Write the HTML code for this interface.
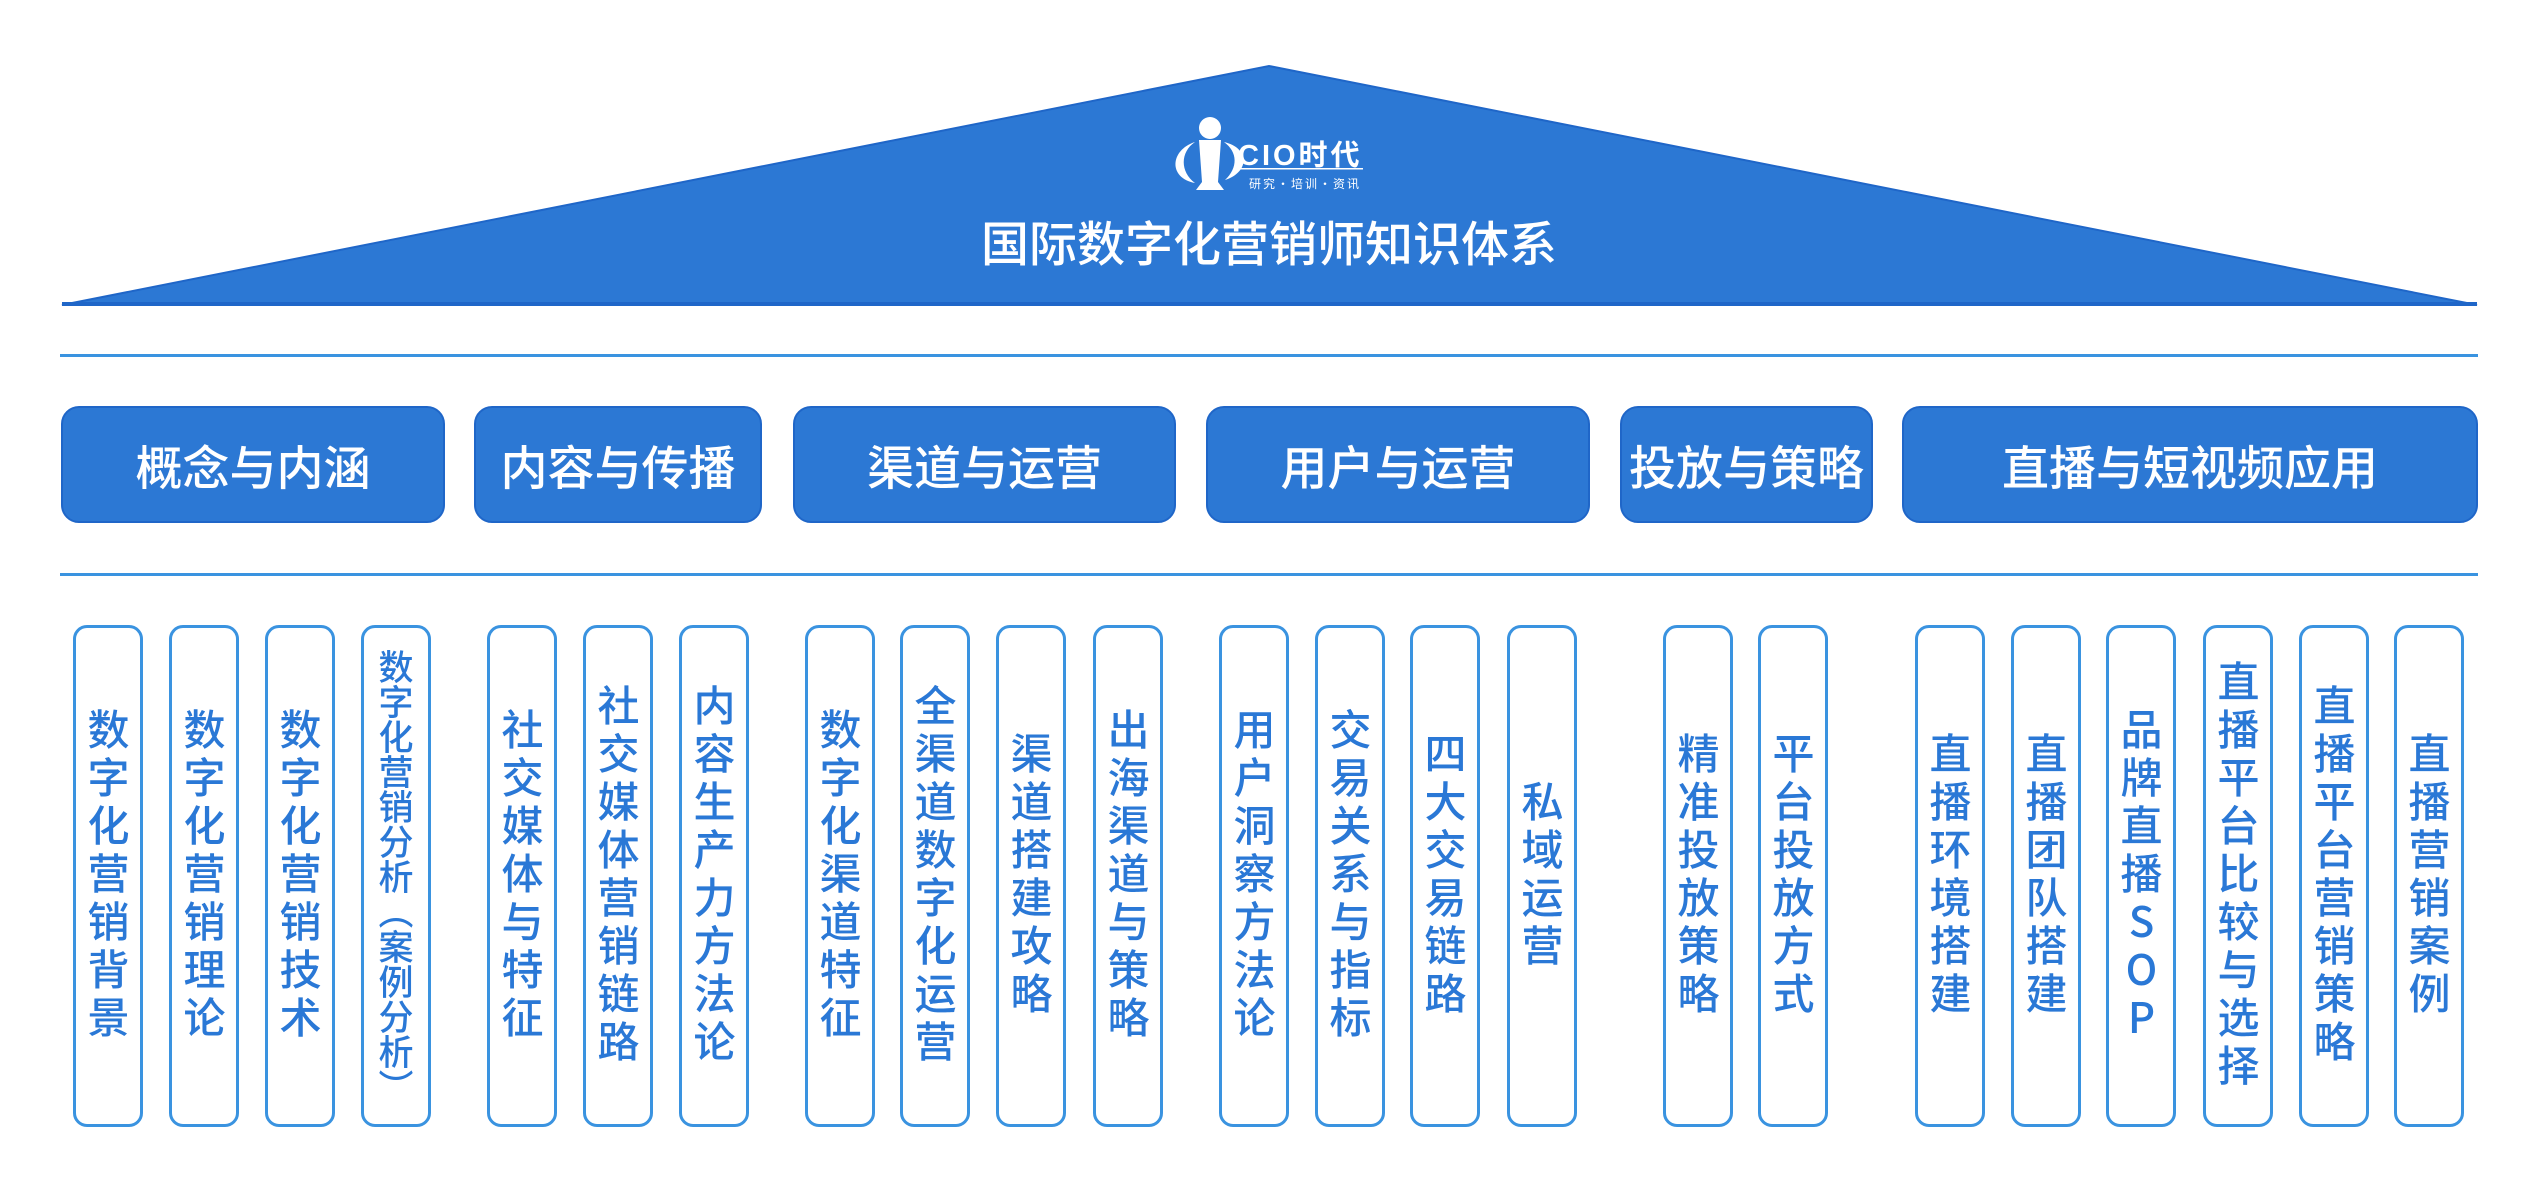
<!DOCTYPE html>
<html><head><meta charset="utf-8"><style>
body{margin:0;width:2538px;height:1188px;background:#fff;position:relative;overflow:hidden;font-family:"Liberation Sans","Noto Sans CJK SC",sans-serif}
.a{position:absolute}
.line{position:absolute;left:60px;width:2418px;height:3px;background:#3a93e0}
.cat{position:absolute;top:406px;height:117px;background:#2c78d4;border:2px solid #1f66c8;border-radius:18px;box-sizing:border-box;color:#fff;font-size:47px;font-weight:500;font-family:"Noto Sans CJK SC",sans-serif;display:flex;align-items:center;justify-content:center;white-space:nowrap}
.col{position:absolute;top:625px;width:70px;height:502px;border:3.5px solid #3a93e0;border-radius:14px;box-sizing:border-box;display:flex;align-items:center;justify-content:center}
.col span{writing-mode:vertical-rl;white-space:nowrap;color:#2a78d6;font-size:42px;font-weight:500;font-family:"Noto Sans CJK SC",sans-serif;letter-spacing:6px;line-height:1}
.col span.s{font-size:35px;letter-spacing:0}
</style></head><body>
<svg class="a" style="left:0;top:0" width="2538" height="320">
<polygon points="62,305 1269,66 2477,305" fill="#2c78d4" stroke="#1f66c8" stroke-width="2"/>
<rect x="62" y="302" width="2415" height="4" fill="#1f66c8"/>
<circle cx="1210" cy="128" r="11" fill="#fff"/>
<path d="M1199,140 L1221,140 L1218,182 L1224,190 L1196,190 L1202,182 Z" fill="#fff"/>
<path d="M1195,142 C1170,150 1168,178 1195,183 C1180,172 1180,152 1195,142 Z" fill="#fff"/>
<path d="M1224,142 C1250,148 1250,172 1225,180 C1238,168 1238,152 1224,142 Z" fill="#fff"/>
<rect x="1238" y="168" width="125" height="1.5" fill="#fff"/>
<text x="1238" y="165" fill="#fff" font-size="29" font-weight="bold" font-family="Liberation Sans,Noto Sans CJK SC,sans-serif" letter-spacing="3">CIO时代</text>
<text x="1249" y="188" fill="#fff" font-size="12" font-family="Noto Sans CJK SC,sans-serif" letter-spacing="2">研究·培训·资讯</text>
<text x="1269" y="261" fill="#fff" font-size="48" text-anchor="middle" font-family="Noto Sans CJK SC,sans-serif" font-weight="500">国际数字化营销师知识体系</text>
</svg>
<div class="line" style="top:354px"></div>
<div class="line" style="top:573px"></div>
<div class="cat" style="left:61px;width:384px">概念与内涵</div>
<div class="cat" style="left:474px;width:288px">内容与传播</div>
<div class="cat" style="left:793px;width:383px">渠道与运营</div>
<div class="cat" style="left:1206px;width:384px">用户与运营</div>
<div class="cat" style="left:1620px;width:253px">投放与策略</div>
<div class="cat" style="left:1902px;width:576px">直播与短视频应用</div>

<div class="col" style="left:73px"><span>数字化营销背景</span></div>
<div class="col" style="left:169px"><span>数字化营销理论</span></div>
<div class="col" style="left:265px"><span>数字化营销技术</span></div>
<div class="col" style="left:361px"><span class="s">数字化营销分析（案例分析）</span></div>
<div class="col" style="left:487px"><span>社交媒体与特征</span></div>
<div class="col" style="left:583px"><span>社交媒体营销链路</span></div>
<div class="col" style="left:679px"><span>内容生产力方法论</span></div>
<div class="col" style="left:805px"><span>数字化渠道特征</span></div>
<div class="col" style="left:900px"><span>全渠道数字化运营</span></div>
<div class="col" style="left:996px"><span>渠道搭建攻略</span></div>
<div class="col" style="left:1093px"><span>出海渠道与策略</span></div>
<div class="col" style="left:1219px"><span>用户洞察方法论</span></div>
<div class="col" style="left:1315px"><span>交易关系与指标</span></div>
<div class="col" style="left:1410px"><span>四大交易链路</span></div>
<div class="col" style="left:1507px"><span>私域运营</span></div>
<div class="col" style="left:1663px"><span>精准投放策略</span></div>
<div class="col" style="left:1758px"><span>平台投放方式</span></div>
<div class="col" style="left:1915px"><span>直播环境搭建</span></div>
<div class="col" style="left:2011px"><span>直播团队搭建</span></div>
<div class="col" style="left:2106px"><span style="text-orientation:upright">品牌直播SOP</span></div>
<div class="col" style="left:2203px"><span>直播平台比较与选择</span></div>
<div class="col" style="left:2299px"><span>直播平台营销策略</span></div>
<div class="col" style="left:2394px"><span>直播营销案例</span></div>
</body></html>
